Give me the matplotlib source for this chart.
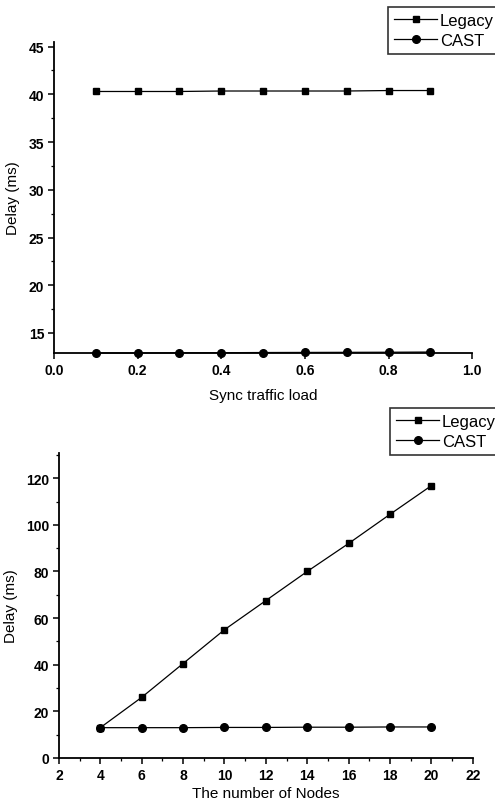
import matplotlib
matplotlib.use("Agg")
import matplotlib.pyplot as plt
from matplotlib.ticker import MultipleLocator

plt.rcParams["font.family"] = ["Liberation Sans", "DejaVu Sans"]

# top panel: delay vs sync traffic load
load = [0.1, 0.2, 0.3, 0.4, 0.5, 0.6, 0.7, 0.8, 0.9]
legacy_load = [40.3, 40.3, 40.3, 40.35, 40.35, 40.35, 40.35, 40.4, 40.4]
cast_load = [12.9, 12.9, 12.92, 12.93, 12.95, 12.96, 12.97, 12.98, 13.0]

# bottom panel: delay vs number of nodes
nodes = [4, 6, 8, 10, 12, 14, 16, 18, 20]
legacy_nodes = [13.0, 26.0, 40.5, 55.0, 67.5, 80.0, 92.0, 104.5, 116.8]
cast_nodes = [13.0, 13.0, 13.0, 13.1, 13.1, 13.2, 13.2, 13.3, 13.3]

series_labels = ["Legacy", "CAST"]


def _style(ax):
    for side in ("top", "right"):
        ax.spines[side].set_visible(False)
    for side in ("left", "bottom"):
        ax.spines[side].set_linewidth(1.3)
    ax.tick_params(which="major", direction="out", length=4, width=1.1,
                   labelsize=10, pad=3)
    ax.tick_params(which="minor", direction="out", length=2, width=0.9)
    for lab in ax.get_xticklabels() + ax.get_yticklabels():
        lab.set_fontweight("bold")


def _draw(ax, x, legacy, cast):
    ax.plot(x, legacy, color="black", lw=0.9, marker="s", ms=5,
            label=series_labels[0], clip_on=False, zorder=3)
    ax.plot(x, cast, color="black", lw=0.9, marker="o", ms=5.5,
            label=series_labels[1], clip_on=False, zorder=3)


def _legend(fig, ax, anchor):
    leg = fig.legend(*ax.get_legend_handles_labels(), loc="upper left",
                     bbox_to_anchor=anchor, fontsize=12, frameon=True,
                     fancybox=False, edgecolor="black", borderpad=0.35,
                     handlelength=2.6, handletextpad=0.15, labelspacing=0.3,
                     borderaxespad=0)
    leg.get_frame().set_linewidth(1.2)


fig = plt.figure(figsize=(4.95, 8.04), dpi=100)

ax1 = fig.add_axes([0.109, 0.5597, 0.845, 0.387])
_draw(ax1, load, legacy_load, cast_load)
ax1.set_xlim(0, 1.0)
ax1.set_ylim(12.9, 45.5)
ax1.yaxis.set_minor_locator(MultipleLocator(2.5))
ax1.set_yticks([15, 20, 25, 30, 35, 40, 45])
ax1.set_xticks([0.0, 0.2, 0.4, 0.6, 0.8, 1.0])
ax1.set_xticklabels(["0.0", "0.2", "0.4", "0.6", "0.8", "1.0"])
ax1.set_xlabel("Sync traffic load", fontsize=11, labelpad=8)
ax1.set_ylabel("Delay (ms)", fontsize=11, labelpad=6)
_style(ax1)
_legend(fig, ax1, (0.784, 0.990))

ax2 = fig.add_axes([0.119, 0.056, 0.836, 0.379])
_draw(ax2, nodes, legacy_nodes, cast_nodes)
ax2.set_xlim(2, 22)
ax2.set_ylim(0, 130.7)
ax2.set_xticks(range(2, 23, 2))
ax2.xaxis.set_minor_locator(MultipleLocator(1))
ax2.set_yticks(range(0, 121, 20))
ax2.yaxis.set_minor_locator(MultipleLocator(10))
ax2.set_xlabel("The number of Nodes", fontsize=11, labelpad=3)
ax2.set_ylabel("Delay (ms)", fontsize=11, labelpad=6)
_style(ax2)
_legend(fig, ax2, (0.788, 0.491))

fig.savefig("out.png", dpi=100)
